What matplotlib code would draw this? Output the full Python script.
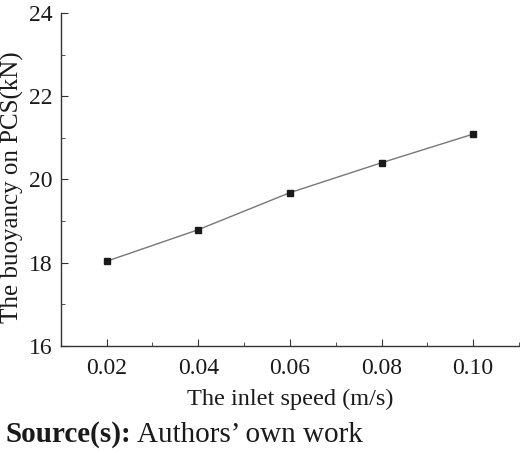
import matplotlib.pyplot as plt
import numpy as np
from matplotlib.ticker import MultipleLocator

plt.rcParams['font.family'] = ['Liberation Serif', 'DejaVu Serif']

inlet_speed = [0.02, 0.04, 0.06, 0.08, 0.10]
buoyancy = [18.03, 18.79, 19.68, 20.40, 21.09]
xtick_labels = ['0.02', '0.04', '0.06', '0.08', '0.10']

fig = plt.figure(figsize=(5.2, 4.53), dpi=100)
ax = fig.add_axes([0.117, 0.237, 0.881, 0.734])

ax.plot(inlet_speed, buoyancy, color='#777777', linewidth=1.0,
        marker='s', markersize=5, markerfacecolor='#1a1a1a',
        markeredgecolor='#1a1a1a')

ax.set_xlim(0.01, 0.11)
ax.set_ylim(16, 24)
ax.set_xticks(inlet_speed)
ax.set_xticklabels(xtick_labels)
ax.set_yticks([16, 18, 20, 22, 24])
ax.xaxis.set_minor_locator(MultipleLocator(0.01))
ax.yaxis.set_minor_locator(MultipleLocator(1))

ax.spines['top'].set_visible(False)
ax.spines['right'].set_visible(False)
for s in ['left', 'bottom']:
    ax.spines[s].set_color('#333333')
    ax.spines[s].set_linewidth(1.0)

ax.tick_params(which='both', direction='in', colors='#333333', labelcolor='#1a1a1a')
ax.tick_params(which='major', length=5, labelsize=17)
ax.tick_params(axis='x', which='major', pad=9)
ax.tick_params(axis='y', which='major', pad=6)
ax.tick_params(which='minor', length=3)

ax.set_xlabel('The inlet speed (m/s)', fontsize=17.5, color='#1a1a1a', labelpad=7)
ax.set_ylabel('The buoyancy on PCS(kN)', fontsize=18, color='#1a1a1a',
              va='center', ha='center')
ax.yaxis.set_label_coords(-0.105, 0.478)

fig.text(0.01, 0.025, 'Source(s):', fontsize=21, fontweight='bold', color='#1a1a1a')
fig.text(0.263, 0.025, 'Authors\u2019 own work', fontsize=21, color='#1a1a1a')

fig.savefig('out.png', dpi=100)
